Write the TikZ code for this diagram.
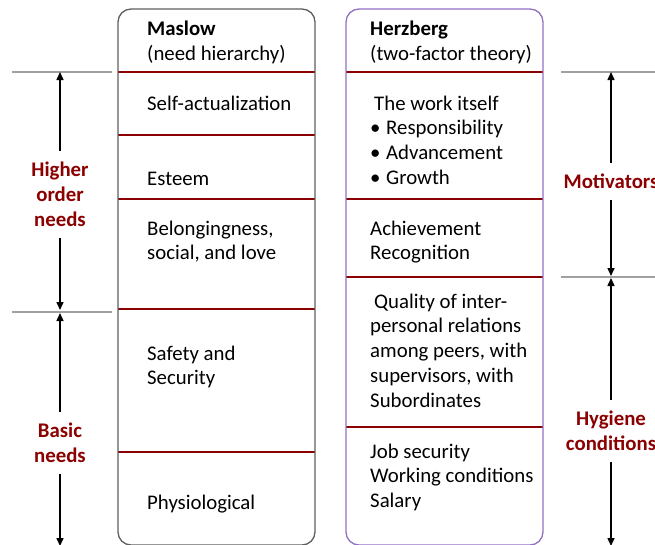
\documentclass[tikz,border=0pt]{standalone}
\usepackage{fontspec}
\setmainfont{Carlito}
\usetikzlibrary{arrows.meta}
\definecolor{darkred}{RGB}{139,0,0}
\definecolor{boxgray}{RGB}{95,95,95}
\definecolor{boxpurple}{RGB}{146,112,196}
\definecolor{rulegray}{RGB}{160,160,160}
\newcommand\bodyfont{\fontsize{20.8}{24.8}\selectfont}
% one text line per node, stacked from a first baseline
\newcommand\textblock[4]{%
  \foreach \t [count=\i] in {#4}
    \node[txt] (#1-\i) at (#2,{#3+24.8*(\i-1)}) {\t};}
\begin{document}
\begin{tikzpicture}[x=1pt,y=-1pt,
  txt/.style={anchor=base west,inner sep=0pt,font=\bodyfont},
  side/.style={anchor=north,inner xsep=0pt,inner ysep=11pt,align=center,
    text=darkred,font=\bodyfont\bfseries},
  sep/.style={draw=darkred,line width=1.8pt},
  guide/.style={draw=rulegray,line width=1.4pt},
  arr/.style={draw=black,line width=1.5pt,-{Triangle[length=8pt,width=7pt]}},
  column/.style={rounded corners=13pt,line width=1.3pt}]
\useasboundingbox (0,0) rectangle (655,544);

% dividing rules inside the two columns
\foreach \y in {72,135,199,309,452} \draw[sep] (118,\y) -- (315,\y);
\foreach \y in {72,199,277,427} \draw[sep] (346,\y) -- (543,\y);

% column frames
\draw[column,draw=boxgray] (118,9) rectangle (315,545);
\draw[column,draw=boxpurple] (346,9) rectangle (543,545);

% guide rules at the band limits
\draw[guide] (12,72) -- (112,72);
\draw[guide] (12,312) -- (112,312);
\draw[guide] (561,72) -- (655,72);
\draw[guide] (561,277) -- (655,277);

% Maslow column
\node[txt,font=\bodyfont\bfseries] (maslow) at (147,35) {Maslow};
\node[txt] (maslowsub) at (147,60) {(need hierarchy)};
\node[txt] (selfact) at (147,110) {Self-actualization};
\node[txt] (esteem) at (147,185) {Esteem};
\textblock{belong}{147}{235}{Belongingness{,}, {social, and love}}
\textblock{safety}{147}{360}{Safety and, Security}
\node[txt] (physio) at (147,509) {Physiological};

% Herzberg column
\node[txt,font=\bodyfont\bfseries] (herz) at (370,35) {Herzberg};
\node[txt] (herzsub) at (370,60) {(two-factor theory)};
\node[txt] (work) at (374,110) {The work itself};
\foreach \t [count=\i] in {Responsibility, Advancement, Growth}{
  \node[txt] (bul-\i) at (370,{110+24.8*\i}) {•};
  \node[txt] (item-\i) at (386,{110+24.8*\i}) {\t};}
\textblock{achieve}{370}{235}{Achievement, Recognition}
\textblock{quality}{374}{308}{Quality of inter-}
\textblock{relations}{370}{332.8}{personal relations, {among peers, with}, {supervisors, with}, Subordinates}
\textblock{job}{370}{458}{Job security, Working conditions, Salary}

% band labels with their extent arrows
\node[side] (higher) at (60,151) {Higher\\order\\needs};
\coordinate (higherTop) at (60,72);
\coordinate (higherBot) at (60,310);
\draw[arr] (higher.north) -- (higherTop);
\draw[arr] (higher.south) -- (higherBot);

\node[side] (basic) at (60,412) {Basic\\needs};
\coordinate (basicTop) at (60,313);
\coordinate (basicBot) at (60,546);
\draw[arr] (basic.north) -- (basicTop);
\draw[arr] (basic.south) -- (basicBot);

\node[side] (motiv) at (611,163) {Motivators};
\coordinate (motivTop) at (611,72);
\coordinate (motivBot) at (611,276);
\draw[arr] (motiv.north) -- (motivTop);
\draw[arr] (motiv.south) -- (motivBot);

\node[side] (hygiene) at (611,400) {Hygiene\\conditions};
\coordinate (hygTop) at (611,278);
\coordinate (hygBot) at (611,546);
\draw[arr] (hygiene.north) -- (hygTop);
\draw[arr] (hygiene.south) -- (hygBot);
\end{tikzpicture}
\end{document}
